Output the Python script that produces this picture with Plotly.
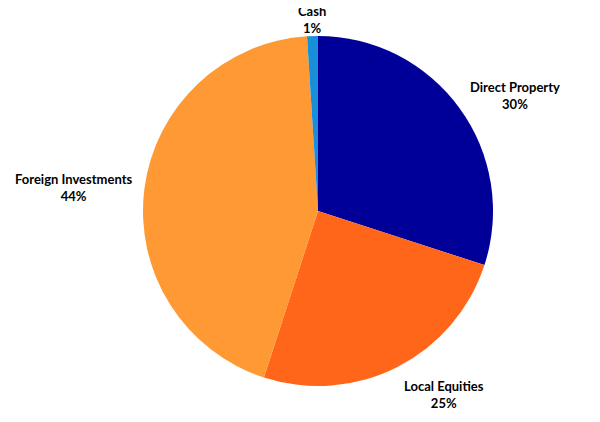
import math
import plotly.graph_objects as go

labels = ["Direct Property", "Local Equities", "Foreign Investments", "Cash"]
values = [30, 25, 44, 1]
colors = ["#000099", "#FF6619", "#FF9933", "#1A8FD9"]

W, H = 600, 422
M = dict(l=135, r=115, t=28, b=44)
pw = W - M["l"] - M["r"]
ph = H - M["t"] - M["b"]
label_gap = 1.06  # labels sit just outside the rim

fig = go.Figure(go.Pie(
    labels=labels,
    values=values,
    marker=dict(colors=colors, line=dict(color="white", width=0)),
    sort=False,
    direction="clockwise",
    rotation=0,
    textinfo="none",
    showlegend=False,
    hoverinfo="label+percent",
))

total = sum(values)
cum = 0
annotations = []
for lab, v in zip(labels, values):
    mid = (cum + v / 2) / total * 2 * math.pi
    cum += v
    ux, uy = math.sin(mid), math.cos(mid)  # uy positive = up
    rpx = min(pw, ph) / 2 * label_gap
    x = 0.5 + ux * rpx / pw
    y = 0.5 + uy * rpx / ph
    xa = "left" if ux > 0.3 else ("right" if ux < -0.3 else "center")
    ya = "bottom" if uy > 0.3 else ("top" if uy < -0.3 else "middle")
    pct = round(v / total * 100)
    annotations.append(dict(
        x=x, y=y, xref="paper", yref="paper",
        xanchor=xa, yanchor=ya, showarrow=False, align="center",
        yshift=-12 if uy > 0.3 else 0,
        text=f"<b>{lab}</b><br><b>{pct}%</b>",
        font=dict(family="Lato", size=13, color="black"),
    ))

fig.update_layout(
    width=W, height=H,
    margin=M,
    paper_bgcolor="white",
    annotations=annotations,
)
fig.write_html("out.html")
